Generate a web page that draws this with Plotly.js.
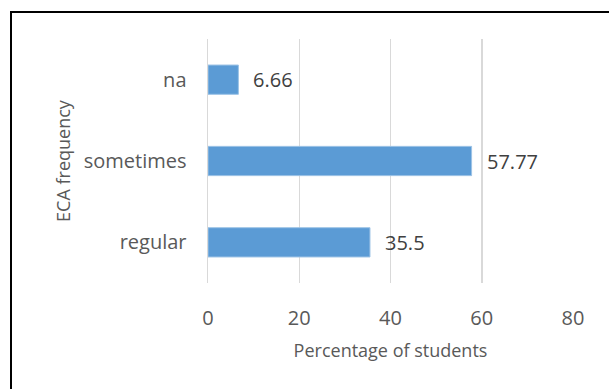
<!DOCTYPE html>
<html>
<head>
<meta charset="utf-8">
<script src="https://cdn.plot.ly/plotly-3.0.1.min.js"></script>
<style>
  html, body { margin: 0; padding: 0; background: #fff; }
  #chart { width: 609px; height: 389px; }
  #frame { position: absolute; left: 10px; top: 11px; width: 620px; height: 400px; border: 2px solid #000; box-sizing: border-box; pointer-events: none; }
</style>
</head>
<body>
<div id="chart"></div>
<div id="frame"></div>
<script>
const categories = ["regular", "sometimes", "na"];
const values = [35.5, 57.77, 6.66];
const valueLabels = ["35.5", "57.77", "6.66"];
const xTicks = [0, 20, 40, 60, 80];

const font = '"Open Sans", Calibri, sans-serif';

const annotations = categories.map((c, i) => ({
  x: values[i], y: c, xref: 'x', yref: 'y',
  text: valueLabels[i], showarrow: false,
  xanchor: 'left', yanchor: 'middle', xshift: 13,
  font: { family: font, size: 20, color: '#404040' }
}));

Plotly.newPlot('chart', [{
  type: 'bar',
  orientation: 'h',
  y: categories,
  x: values,
  marker: { color: '#5b9bd5', line: { color: '#9dc3e6', width: 1 } },
  hoverinfo: 'none'
}], {
  width: 609, height: 389,
  margin: { l: 208, r: 36, t: 39, b: 106 },
  paper_bgcolor: '#ffffff',
  plot_bgcolor: '#ffffff',
  bargap: 0.64,
  showlegend: false,
  annotations: annotations,
  font: { family: font, color: '#595959' },
  xaxis: {
    range: [0, 80],
    tickvals: xTicks,
    ticktext: xTicks.map(String),
    showgrid: true,
    gridcolor: '#d9d9d9',
    gridwidth: 1.5,
    zeroline: false,
    showline: false,
    ticks: '',
    ticklen: 0,
    ticklabelstandoff: 21,
    tickfont: { family: font, size: 20, color: '#595959' },
    title: { text: 'Percentage of students', font: { family: font, size: 18, color: '#595959' }, standoff: 14 }
  },
  yaxis: {
    type: 'category',
    categoryorder: 'array',
    categoryarray: categories,
    showgrid: false,
    zeroline: false,
    showline: true,
    linecolor: '#d9d9d9',
    linewidth: 1.5,
    ticks: '',
    ticklabelstandoff: 16,
    tickfont: { family: font, size: 20, color: '#595959' },
    title: { text: 'ECA frequency', font: { family: font, size: 18, color: '#595959' }, standoff: 8 }
  }
}, { displayModeBar: false, staticPlot: true });
</script>
</body>
</html>
